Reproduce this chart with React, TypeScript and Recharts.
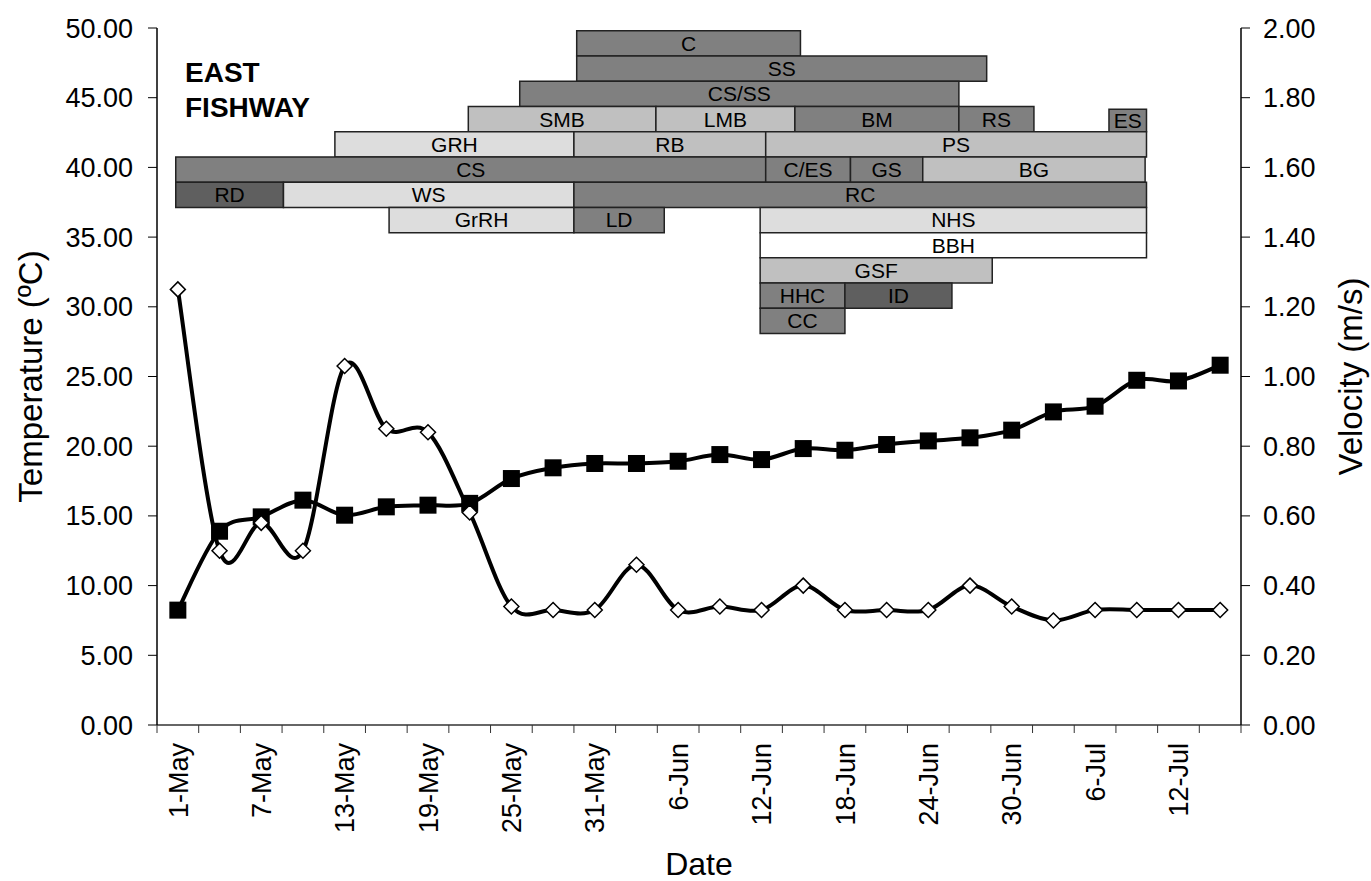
import { ComposedChart, Line, XAxis, YAxis, ReferenceArea } from "recharts";

// sampling dates (every 3 days)
const DATES = [
  "1-May", "4-May", "7-May", "10-May", "13-May", "16-May", "19-May", "22-May",
  "25-May", "28-May", "31-May", "3-Jun", "6-Jun", "9-Jun", "12-Jun", "15-Jun",
  "18-Jun", "21-Jun", "24-Jun", "27-Jun", "30-Jun", "3-Jul", "6-Jul", "9-Jul",
  "12-Jul", "15-Jul",
];
const TEMPERATURE = [
  8.24, 13.9, 14.93, 16.13, 15.05, 15.65, 15.77, 15.9, 17.68, 18.45, 18.76,
  18.76, 18.92, 19.4, 19.04, 19.83, 19.71, 20.12, 20.38, 20.6, 21.15, 22.46,
  22.87, 24.73, 24.68, 25.81,
];
const VELOCITY = [
  1.25, 0.5, 0.58, 0.5, 1.03, 0.85, 0.84, 0.61, 0.34, 0.33, 0.33, 0.46, 0.33,
  0.34, 0.33, 0.4, 0.33, 0.33, 0.33, 0.4, 0.34, 0.3, 0.33, 0.33, 0.33, 0.33,
];
const DATE_TICKS = [
  "1-May", "7-May", "13-May", "19-May", "25-May", "31-May", "6-Jun", "12-Jun",
  "18-Jun", "24-Jun", "30-Jun", "6-Jul", "12-Jul",
];
const TEMP_TICKS = [0, 5, 10, 15, 20, 25, 30, 35, 40, 45, 50];
const VEL_TICKS = [0, 0.2, 0.4, 0.6, 0.8, 1, 1.2, 1.4, 1.6, 1.8, 2];

// species presence periods, days since 1-May
const SPECIES = [
  "C", "SS", "CS/SS", "SMB", "LMB", "BM", "RS", "ES", "GRH", "RB", "PS", "CS",
  "C/ES", "GS", "BG", "RD", "WS", "RC", "GrRH", "LD", "NHS", "BBH", "GSF",
  "HHC", "ID", "CC",
];
const SPECIES_FROM = [
  28.7, 28.7, 24.6, 20.9, 34.4, 44.4, 56.2, 67.0, 11.3, 28.5, 42.3, -0.15,
  42.3, 48.4, 53.6, -0.15, 7.6, 28.5, 15.2, 28.5, 41.9, 41.9, 41.9, 41.9,
  48.0, 41.9,
];
const SPECIES_TO = [
  44.8, 58.2, 56.2, 34.4, 44.4, 56.2, 61.6, 69.7, 28.5, 42.3, 69.7, 42.3,
  48.4, 53.6, 69.6, 7.6, 28.5, 69.7, 28.5, 35.0, 69.7, 69.7, 58.6, 48.0,
  55.7, 48.0,
];

// layout of the species rows
const SPECIES_ROW = [
  0, 1, 2, 3, 3, 3, 3, 3, 4, 4, 4, 5, 5, 5, 5, 6, 6, 6, 7, 7, 7, 8, 9, 10, 10,
  11,
];
const SPECIES_SHADE = [
  "dark", "dark", "dark", "mid", "mid", "dark", "dark", "dark", "light", "mid",
  "mid", "dark", "dark", "dark", "mid", "darker", "light", "dark", "light",
  "dark", "light", "white", "mid", "dark", "darker", "dark",
];
const SHADES = {
  dark: "#808080",
  darker: "#5f5f5f",
  mid: "#c0c0c0",
  light: "#dddddd",
  white: "#ffffff",
};
const ROW_TOP = 49.8;
const ROW_H = 1.81;
const TOP_INSET = { ES: 0.2 };

const FONT = '"Liberation Sans", Arial, sans-serif';
const MONTH_OFFSET = { May: 0, Jun: 31, Jul: 61 };
const toDay = (s: string) => {
  const [d, m] = s.split("-");
  return MONTH_OFFSET[m] + Number(d) - 1;
};

const data = DATES.map((d, i) => ({
  day: toDay(d),
  temp: TEMPERATURE[i],
  vel: VELOCITY[i],
}));

const STEP = 3;
const labelByDay = new Map(DATE_TICKS.map((t) => [toDay(t), t]));
const boundaryTicks = Array.from(
  { length: DATES.length + 1 },
  (_, k) => toDay(DATES[0]) - STEP / 2 + STEP * k
);
const X_DOMAIN = [boundaryTicks[0], boundaryTicks[boundaryTicks.length - 1]];
const X_TICKS = [...boundaryTicks, ...labelByDay.keys()].sort((a, b) => a - b);

// Excel-like smoothed line (Catmull-Rom through the points)
function smoothCurve(context) {
  let pts: number[][] = [];
  return {
    areaStart() {},
    areaEnd() {},
    lineStart() {
      pts = [];
    },
    point(x, y) {
      pts.push([+x, +y]);
    },
    lineEnd() {
      const n = pts.length;
      if (!n) return;
      context.moveTo(pts[0][0], pts[0][1]);
      for (let i = 0; i < n - 1; i++) {
        const p0 = pts[Math.max(i - 1, 0)];
        const p1 = pts[i];
        const p2 = pts[i + 1];
        const p3 = pts[Math.min(i + 2, n - 1)];
        context.bezierCurveTo(
          p1[0] + (p2[0] - p0[0]) / 6,
          p1[1] + (p2[1] - p0[1]) / 6,
          p2[0] - (p3[0] - p1[0]) / 6,
          p2[1] - (p3[1] - p1[1]) / 6,
          p2[0],
          p2[1]
        );
      }
    },
  };
}

const SquareDot = ({ cx, cy }: any) =>
  cx == null ? null : (
    <rect x={cx - 8.5} y={cy - 8.5} width={17} height={17} fill="#000" />
  );

const DiamondDot = ({ cx, cy }: any) =>
  cx == null ? null : (
    <polygon
      points={`${cx},${cy - 7.5} ${cx + 7.5},${cy} ${cx},${cy + 7.5} ${cx - 7.5},${cy}`}
      fill="#fff"
      stroke="#000"
      strokeWidth={1.5}
    />
  );

function DateTick({ x, y, payload }: any) {
  const label = labelByDay.get(payload.value);
  if (label === undefined) {
    return <line x1={x} y1={y} x2={x} y2={y + 8} stroke="#333" />;
  }
  const ty = y + 18;
  return (
    <text
      x={x}
      y={ty}
      dy="0.36em"
      transform={`rotate(-90 ${x} ${ty})`}
      textAnchor="end"
      fontSize={27}
      fill="#000"
      fontFamily={FONT}
    >
      {label}
    </text>
  );
}

export default function App() {
  return (
    <div
      style={{
        position: "absolute",
        left: 0,
        top: 0,
        width: 1371,
        height: 881,
        fontFamily: FONT,
        background: "#fff",
      }}
    >
      <ComposedChart
        width={1371}
        height={881}
        data={data}
        margin={{ top: 28, right: 0, bottom: 0, left: 0 }}
      >
        <XAxis
          dataKey="day"
          type="number"
          domain={X_DOMAIN}
          ticks={X_TICKS}
          interval={0}
          tick={<DateTick />}
          tickLine={false}
          tickSize={0}
          tickMargin={0}
          height={156}
          axisLine={{ stroke: "#333", strokeWidth: 1.5 }}
          label={{
            value: "Date",
            position: "insideBottom",
            offset: 6,
            fontSize: 32,
            fill: "#000",
          }}
        />
        <YAxis
          yAxisId="t"
          domain={[0, 50]}
          ticks={TEMP_TICKS}
          interval={0}
          tickFormatter={(v) => v.toFixed(2)}
          width={157}
          tickSize={9}
          tickMargin={15}
          tick={{ fontSize: 27, fill: "#000" }}
          tickLine={{ stroke: "#000" }}
          axisLine={{ stroke: "#000", strokeWidth: 1.5 }}
          label={{
            value: "Temperature (ºC)",
            angle: -90,
            position: "insideLeft",
            offset: 30,
            fontSize: 33,
            fill: "#000",
            style: { textAnchor: "middle" },
          }}
        />
        <YAxis
          yAxisId="v"
          orientation="right"
          domain={[0, 2]}
          ticks={VEL_TICKS}
          interval={0}
          tickFormatter={(v) => v.toFixed(2)}
          width={130}
          tickSize={9}
          tickMargin={13}
          tick={{ fontSize: 27, fill: "#000" }}
          tickLine={{ stroke: "#000" }}
          axisLine={{ stroke: "#000", strokeWidth: 1.5 }}
          label={{
            value: "Velocity (m/s)",
            angle: -90,
            position: "insideRight",
            offset: 21,
            fontSize: 33,
            fill: "#000",
            style: { textAnchor: "middle" },
          }}
        />

        {SPECIES.map((name, i) => {
          const top = ROW_TOP - ROW_H * SPECIES_ROW[i];
          return (
            <ReferenceArea
              key={name + i}
              yAxisId="t"
              x1={SPECIES_FROM[i]}
              x2={SPECIES_TO[i]}
              y1={top - ROW_H}
              y2={top - (TOP_INSET[name] || 0)}
              fill={SHADES[SPECIES_SHADE[i]]}
              fillOpacity={1}
              stroke="#222"
              strokeWidth={1.5}
              ifOverflow="visible"
              label={{
                value: name,
                position: "center",
                fontSize: 21,
                fill: "#000",
              }}
            />
          );
        })}

        <Line
          yAxisId="t"
          dataKey="temp"
          type={smoothCurve as any}
          stroke="#000"
          strokeWidth={4}
          dot={<SquareDot />}
          activeDot={false}
          isAnimationActive={false}
        />
        <Line
          yAxisId="v"
          dataKey="vel"
          type={smoothCurve as any}
          stroke="#000"
          strokeWidth={4}
          dot={<DiamondDot />}
          activeDot={false}
          isAnimationActive={false}
        />
      </ComposedChart>
      <div
        style={{
          position: "absolute",
          left: 185,
          top: 55,
          fontSize: 28,
          lineHeight: "35px",
          fontWeight: "bold",
          color: "#000",
        }}
      >
        EAST
        <br />
        FISHWAY
      </div>
    </div>
  );
}
